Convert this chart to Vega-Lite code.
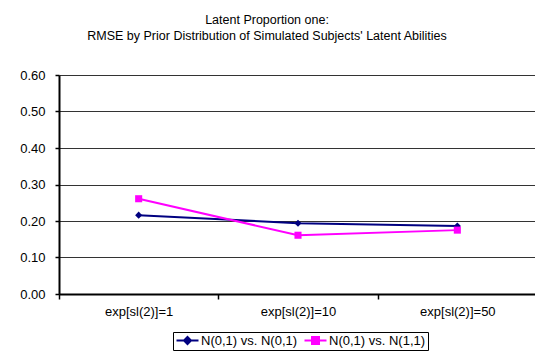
{
  "$schema": "https://vega.github.io/schema/vega-lite/v6.json",
  "width": 478,
  "height": 219,
  "autosize": {"type": "none"},
  "padding": {"left": 59, "top": 75, "right": 0, "bottom": 57},
  "background": "white",
  "config": {"font": "Liberation Sans", "view": {"stroke": null}},
  "title": {
    "text": ["Latent Proportion one:", "RMSE by Prior Distribution of Simulated Subjects' Latent Abilities"],
    "fontSize": 12.5,
    "fontWeight": "normal",
    "color": "black",
    "anchor": "middle",
    "frame": "group",
    "dx": -31,
    "offset": 27,
    "lineHeight": 16
  },
  "data": {
    "values": [
      {"cat": "exp[sl(2)]=1", "series": "N(0,1) vs. N(0,1)", "rmse": 0.216},
      {"cat": "exp[sl(2)]=10", "series": "N(0,1) vs. N(0,1)", "rmse": 0.194},
      {"cat": "exp[sl(2)]=50", "series": "N(0,1) vs. N(0,1)", "rmse": 0.186},
      {"cat": "exp[sl(2)]=1", "series": "N(0,1) vs. N(1,1)", "rmse": 0.261},
      {"cat": "exp[sl(2)]=10", "series": "N(0,1) vs. N(1,1)", "rmse": 0.161},
      {"cat": "exp[sl(2)]=50", "series": "N(0,1) vs. N(1,1)", "rmse": 0.175}
    ]
  },
  "encoding": {
    "x": {
      "field": "cat",
      "type": "nominal",
      "sort": null,
      "axis": {
        "title": null,
        "labelAngle": 0,
        "tickBand": "extent",
        "domainColor": "black",
        "domainWidth": 2,
        "tickColor": "black",
        "tickWidth": 1.5,
        "tickSize": 5,
        "labelFontSize": 13,
        "labelColor": "black",
        "labelPadding": 6,
        "grid": false
      }
    },
    "y": {
      "field": "rmse",
      "type": "quantitative",
      "scale": {"domain": [0, 0.6], "nice": false},
      "axis": {
        "title": null,
        "values": [0, 0.1, 0.2, 0.3, 0.4, 0.5, 0.6],
        "format": ".2f",
        "grid": true,
        "gridColor": "#333333",
        "gridWidth": 1,
        "domainColor": "black",
        "domainWidth": 2,
        "tickColor": "black",
        "tickWidth": 1.5,
        "tickSize": 4,
        "labelFontSize": 13,
        "labelColor": "black",
        "labelPadding": 10
      }
    },
    "color": {
      "field": "series",
      "type": "nominal",
      "scale": {"range": ["#000080", "#FF00FF"]}
    }
  },
  "layer": [
    {
      "mark": {"type": "line", "strokeWidth": 2},
      "encoding": {
        "color": {
          "field": "series",
          "type": "nominal",
          "scale": {"range": ["#000080", "#FF00FF"]},
          "legend": {
            "title": null,
            "orient": "none",
            "legendX": 114,
            "legendY": 257,
            "direction": "horizontal",
            "strokeColor": "black",
            "padding": 2,
            "symbolSize": 100,
            "symbolOffset": 6,
            "symbolStrokeWidth": 2,
            "labelFontSize": 13,
            "labelColor": "black",
            "labelOffset": 7,
            "columnPadding": 2,
            "encode": {
              "symbols": {
                "update": {
                  "shape": {"signal": "datum.value == 'N(0,1) vs. N(0,1)' ? 'M-2.2,0H2.2M0,-0.7L0.7,0L0,0.7L-0.7,0Z' : 'M-2.2,0H2.2M-0.7,-0.7H0.7V0.7H-0.7Z'"},
                  "fill": {"scale": "color", "field": "value"},
                  "fillOpacity": {"value": 1}
                }
              }
            }
          }
        }
      }
    },
    {
      "mark": {"type": "point", "filled": true, "opacity": 1, "size": 50},
      "encoding": {
        "shape": {
          "field": "series",
          "type": "nominal",
          "scale": {"range": ["diamond", "square"]},
          "legend": null
        }
      }
    }
  ]
}
